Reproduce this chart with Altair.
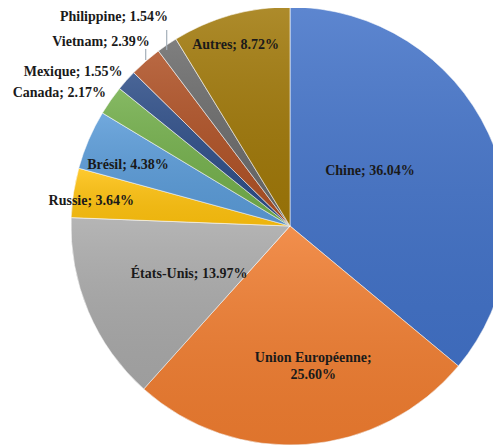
import altair as alt
import pandas as pd

categories = ["Chine", "Union Européenne", "États-Unis", "Russie", "Brésil",
              "Canada", "Mexique", "Vietnam", "Philippine", "Autres"]
shares = [36.04, 25.60, 13.97, 3.64, 4.38, 2.17, 1.55, 2.39, 1.54, 8.72]
colors = ["#4272C8", "#F07D30", "#A9A9A9", "#FFC20E", "#5A9BD8",
          "#72AE4A", "#2C4C86", "#AE5024", "#6A6A6A", "#A07808"]
label_texts = ["Chine; 36.04%", "Union Européenne;\n25.60%", "États-Unis; 13.97%",
               "Russie; 3.64%", "Brésil; 4.38%", "Canada; 2.17%", "Mexique; 1.55%",
               "Vietnam; 2.39%", "Philippine; 1.54%", "Autres; 8.72%"]

# label layout: radius, dx, dy, align
label_layout = {
    "Chine": (96, -7, -14, "center"),
    "Union Européenne": (141, 13, -9, "center"),
    "États-Unis": (115, 5, 3, "center"),
    "Russie": (200, -1, 5, "center"),
    "Brésil": (173, -3, 7, "center"),
    "Canada": (227, 2, -3, "right"),
    "Mexique": (227, 2, -3, "right"),
    "Vietnam": (231, 12, -10, "right"),
    "Philippine": (242, 14, -9, "right"),
    "Autres": (190, -3, 2, "center"),
}

# leader lines for the two outside labels (annotation, chart pixels)
leader_x = [158.7, 137.7]
leader_y = [22, 41]
leader_y2 = [42, 52]

df = pd.DataFrame({"cat": categories, "share": shares,
                   "order": list(range(len(categories))), "label": label_texts})
leaders = pd.DataFrame({"lx": leader_x, "ly": leader_y, "ly2": leader_y2})

CX, CY, R = 282, 218, 219

base = alt.Chart(df).encode(
    theta=alt.Theta("share:Q", stack=True),
    order=alt.Order("order:Q"),
    x=alt.value(CX),
    y=alt.value(CY),
)

arcs = base.mark_arc(radius=R, stroke="white", strokeWidth=0.6).encode(
    color=alt.Color("cat:N", scale=alt.Scale(domain=categories, range=colors), legend=None)
)

shade = base.mark_arc(
    radius=R,
    fill=alt.Gradient(
        gradient="linear", x1=0, y1=0, x2=0, y2=1,
        stops=[alt.GradientStop(offset=0, color="rgba(255,255,255,0.14)"),
               alt.GradientStop(offset=1, color="rgba(0,0,0,0.07)")],
    ),
)

lines = alt.Chart(leaders).mark_rule(color="#A4AEB9", strokeWidth=1.2).encode(
    x=alt.X("lx:Q", scale=None), y=alt.Y("ly:Q", scale=None), y2=alt.Y2("ly2:Q")
)

layers = [arcs, shade, lines]
for cat, (r, dx, dy, align) in label_layout.items():
    layers.append(
        base.mark_text(radius=r, dx=dx, dy=dy, align=align, baseline="middle",
                       font='"Liberation Serif", "Times New Roman", serif',
                       fontWeight="bold", fontSize=14,
                       color="#1a1a1a", lineBreak="\n", lineHeight=17)
        .encode(text="label:N", opacity=alt.condition(f"datum.cat == '{cat}'", alt.value(1), alt.value(0)))
    )

chart = alt.layer(*layers).properties(
    width=485, height=438, padding=0, autosize="none"
).configure_view(stroke=None)

chart.save("out.html", embed_options={"renderer": "svg", "actions": False})
